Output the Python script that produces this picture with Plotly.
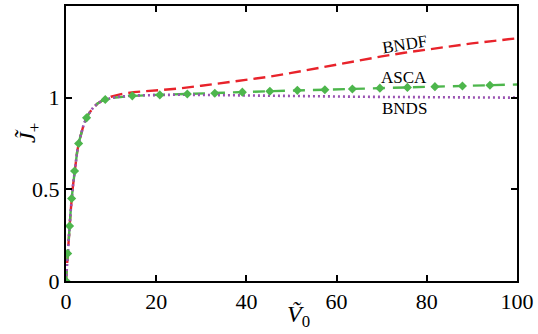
import plotly.graph_objects as go

# Common rise + individual tails
v_line = [0, 0.25, 0.5, 0.75, 1, 1.5, 2, 2.5, 3, 4, 5, 6, 7, 8, 10, 12, 15, 20, 25, 30, 35, 40,
          45, 50, 55, 60, 65, 70, 75, 80, 85, 90, 95, 100]
rise = [0, 0.10, 0.20, 0.28, 0.37, 0.51, 0.62, 0.71, 0.77, 0.86, 0.91, 0.945, 0.968, 0.983]

bndf_tail = [1.005, 1.018, 1.03, 1.04, 1.05, 1.065, 1.08, 1.097, 1.114, 1.135, 1.158, 1.18,
             1.204, 1.225, 1.245, 1.263, 1.28, 1.296, 1.31, 1.324]
asca_tail = [0.998, 1.004, 1.01, 1.015, 1.02, 1.023, 1.027, 1.031, 1.035, 1.039, 1.042, 1.045,
             1.048, 1.052, 1.055, 1.059, 1.062, 1.065, 1.069, 1.072]
bnds_tail = [0.998, 1.006, 1.012, 1.016, 1.016, 1.015, 1.013, 1.012, 1.01, 1.009, 1.007, 1.006,
             1.005, 1.004, 1.003, 1.002, 1.001, 1.001, 1.0, 1.0]

bndf = rise + bndf_tail
asca = rise + asca_tail
bnds = rise + bnds_tail

asca_mk_v = [0, 0.37, 0.8, 1.25, 1.9, 2.8, 4.56, 8.7, 14.7, 20.8, 26.9, 33.0, 39.1, 45.2,
             51.3, 57.4, 63.5, 69.6, 75.7, 81.8, 87.9, 94.0]
asca_mk_j = [0, 0.15, 0.30, 0.45, 0.60, 0.75, 0.89, 0.99, 1.01, 1.015, 1.02, 1.024, 1.03, 1.035,
             1.04, 1.043, 1.047, 1.052, 1.056, 1.06, 1.064, 1.068]

labels = ["BNDF", "ASCA", "BNDS"]
label_x = [75, 75, 75]
label_y = [1.29, 1.108, 0.94]
label_angle = [-9, 0, 0]

x_ticks = [0, 20, 40, 60, 80, 100]
y_ticks = [0, 0.5, 1]
y_tick_text = ["0", "0.5", "1"]

RED = "#e8232b"
GREEN = "#4db64c"
PURPLE = "#9a52b2"
FONT = "Liberation Serif"

fig = go.Figure()
fig.add_trace(go.Scatter(x=v_line, y=bndf, mode="lines",
                         line=dict(color=RED, width=2.4, dash="12px,6px")))
fig.add_trace(go.Scatter(x=v_line, y=asca, mode="lines",
                         line=dict(color=GREEN, width=2.4, dash="12px,8px")))
fig.add_trace(go.Scatter(x=v_line, y=bnds, mode="lines",
                         line=dict(color=PURPLE, width=2.6, dash="2px,3px")))
fig.add_trace(go.Scatter(x=asca_mk_v, y=asca_mk_j, mode="markers",
                         marker=dict(symbol="diamond", size=7, color=GREEN)))

for t, x, y, a in zip(labels, label_x, label_y, label_angle):
    fig.add_annotation(x=x, y=y, text=t, showarrow=False, textangle=a,
                       font=dict(family=FONT, size=17, color="black"))

fig.add_annotation(xref="paper", yref="paper", x=0.515, y=-0.19, text="<i>Ṽ</i><sub>0</sub>",
                   showarrow=False, font=dict(family=FONT, size=24, color="black"))
fig.add_annotation(xref="paper", yref="paper", x=-0.12, y=0.538, text="<i>J̃</i><sub>+</sub>",
                   showarrow=False, textangle=-90, font=dict(family=FONT, size=24, color="black"))

axis_common = dict(showgrid=False, zeroline=False, showline=True, linecolor="black", linewidth=2,
                   mirror="ticks", ticks="inside", ticklen=6, tickwidth=1.5, tickcolor="black",
                   tickfont=dict(family=FONT, size=22, color="black"))
fig.update_xaxes(range=[0, 100], tickvals=x_ticks, **axis_common)
fig.update_yaxes(range=[0, 1.5], tickvals=y_ticks, ticktext=y_tick_text, **axis_common)

fig.update_layout(width=538, height=334, showlegend=False,
                  margin=dict(l=66, r=19, t=4, b=53),
                  plot_bgcolor="white", paper_bgcolor="white")

fig.write_html("out.html")
